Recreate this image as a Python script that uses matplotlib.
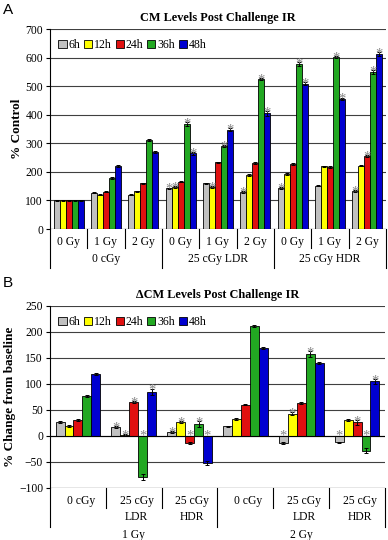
import matplotlib
matplotlib.use("Agg")
import matplotlib.pyplot as plt
import numpy as np
from matplotlib.transforms import blended_transform_factory
from matplotlib.patches import Patch
from matplotlib.lines import Line2D

plt.rcParams['font.family'] = ['Liberation Serif', 'DejaVu Serif']

series = ["6h", "12h", "24h", "36h", "48h"]
colors = ["#c0c0c0", "#ffff00", "#e01010", "#22a822", "#0000d0"]

# Panel A
a_sub = ["0 Gy", "1 Gy", "2 Gy"] * 3
a_grp = ["0 cGy", "25 cGy LDR", "25 cGy HDR"]
a_vals = [
    [100, 127, 120, 142, 160, 130, 143, 152, 132],   # 6h
    [100, 120, 132, 147, 148, 190, 193, 220, 222],   # 12h
    [100, 131, 160, 166, 233, 231, 228, 217, 255],   # 24h
    [100, 178, 312, 368, 290, 525, 577, 601, 550],   # 36h
    [100, 220, 270, 265, 348, 405, 508, 456, 612],   # 48h
]
a_err = [
    [2, 2, 2, 3, 2, 3, 3, 2, 3],
    [2, 2, 2, 3, 3, 3, 3, 2, 3],
    [2, 2, 2, 3, 3, 3, 3, 2, 3],
    [2, 3, 4, 6, 4, 3, 6, 3, 6],
    [2, 3, 4, 5, 4, 8, 5, 4, 8],
]
a_sig = [
    [0, 0, 0, 1, 0, 1, 1, 0, 1],
    [0, 0, 0, 1, 1, 0, 0, 0, 0],
    [0, 0, 0, 0, 0, 0, 0, 0, 1],
    [0, 0, 0, 1, 1, 1, 1, 1, 1],
    [0, 0, 0, 1, 1, 1, 1, 1, 1],
]

# Panel B
b_sub = ["0 cGy", "25 cGy\nLDR", "25 cGy\nHDR"] * 2
b_grp = ["1 Gy", "2 Gy"]
b_vals = [
    [27, 17, 7, 19, -14, -12],
    [19, 2, 27, 32, 43, 30],
    [31, 65, -14, 60, 63, 26],
    [77, -79, 23, 211, 157, -28],
    [119, 85, -52, 170, 141, 105],
]
b_err = [
    [2, 2, 2, 1, 2, 1],
    [2, 1, 2, 2, 3, 2],
    [2, 2, 2, 1, 2, 4],
    [2, 6, 6, 2, 6, 5],
    [2, 6, 4, 2, 2, 5],
]
b_sig = [
    [0, 1, 1, 0, 1, 1],
    [0, 1, 1, 0, 1, 0],
    [0, 1, 1, 0, 0, 1],
    [0, 1, 1, 0, 1, 1],
    [0, 1, 1, 0, 0, 1],
]

fig = plt.figure(figsize=(3.88, 5.40), dpi=100)
W, H = 388, 540
FS = 8.4


def px_axes(l, t, r, b):
    return fig.add_axes([l / W, 1 - b / H, (r - l) / W, (b - t) / H])


def draw_bars(ax, vals, errs, sigs, neg_pos):
    n = len(vals[0])
    x = np.arange(n)
    bw = 0.16
    for i in range(5):
        xs = x + (i - 2) * bw
        ax.bar(xs, vals[i], bw, color=colors[i], edgecolor="black",
               linewidth=0.6, zorder=3)
        ax.errorbar(xs, vals[i], yerr=errs[i], fmt="none", ecolor="black",
                    elinewidth=0.7, capsize=1.5, capthick=0.7, zorder=4)
        for j in range(n):
            if sigs[i][j]:
                v = vals[i][j]
                y = v + errs[i][j] if v >= 0 else neg_pos
                ax.annotate("*", (xs[j], y), xytext=(0, -3.8),
                            textcoords="offset points", ha="center",
                            va="baseline", color="#858585", fontsize=10.5,
                            zorder=5)
    ax.set_xlim(-0.5, n - 0.5)
    ax.set_xticks([])
    ax.spines["right"].set_visible(False)
    ax.spines["top"].set_visible(False)
    ax.spines["left"].set_linewidth(0.8)
    ax.spines["bottom"].set_visible(False)
    ax.yaxis.grid(True, color="#404040", linewidth=0.8, zorder=0)
    ax.set_axisbelow(True)
    ax.tick_params(axis="y", labelsize=FS, length=3, width=0.8, pad=2)


def legend(ax):
    handles = [Patch(facecolor=c, edgecolor="black", linewidth=0.6) for c in colors]
    ax.legend(handles, series, loc="upper left", ncol=5, frameon=False,
              fontsize=8.6, handlelength=0.7, handleheight=0.7,
              handletextpad=0.15, columnspacing=0.3,
              bbox_to_anchor=(0.0, 0.99), borderaxespad=0.3)


# ---------- Panel A ----------
axA = px_axes(50, 29, 386, 229)
draw_bars(axA, a_vals, a_err, a_sig, 5)
axA.set_ylim(0, 700)
axA.set_yticks(range(0, 701, 100))
axA.axhline(0, color="black", linewidth=0.8, zorder=4)
axA.set_title("CM Levels Post Challenge IR", fontsize=8.8, fontweight="bold",
              pad=6)
axA.set_ylabel("% Control", fontsize=9.5, fontweight="bold", labelpad=2)
legend(axA)
trA = blended_transform_factory(axA.transData, axA.transAxes)
for j, lab in enumerate(a_sub):
    axA.text(j, -0.035, lab, transform=trA, ha="center", va="top", fontsize=FS)
for j in range(10):
    bottom = -0.195 if j % 3 == 0 else -0.095
    axA.add_line(Line2D([j - 0.5, j - 0.5], [0, bottom], transform=trA,
                        color="black", linewidth=0.8, clip_on=False))
for g, lab in enumerate(a_grp):
    axA.text(3 * g + 1, -0.12, lab, transform=trA, ha="center", va="top",
             fontsize=FS)

# ---------- Panel B ----------
axB = px_axes(50, 306, 385, 488)
draw_bars(axB, b_vals, b_err, b_sig, 3)
axB.set_ylim(-100, 250)
axB.set_yticks(range(-100, 251, 50))
axB.axhline(0, color="black", linewidth=0.8, zorder=4)
axB.axhline(-100, color="black", linewidth=0.8, zorder=4)
axB.set_title("\u0394CM Levels Post Challenge IR", fontsize=8.8,
              fontweight="bold", pad=6)
axB.set_ylabel("% Change from baseline", fontsize=9.5, fontweight="bold",
               labelpad=2)
legend(axB)
trB = blended_transform_factory(axB.transData, axB.transAxes)
for j, lab in enumerate(b_sub):
    axB.text(j + 0.05, -0.04, lab, transform=trB, ha="center", va="top",
             fontsize=FS, linespacing=1.4)
for j in range(7):
    bottom = -0.215 if j % 3 == 0 else -0.11
    axB.add_line(Line2D([j - 0.5, j - 0.5], [0, bottom], transform=trB,
                        color="black", linewidth=0.8, clip_on=False))
for g, lab in enumerate(b_grp):
    axB.text(3 * g + 1, -0.225, lab, transform=trB, ha="center", va="top",
             fontsize=FS)

fig.text(3 / W, 1 - 3 / H, "A", fontsize=11, va="top", ha="left",
         family="Liberation Sans")
fig.text(3 / W, 1 - 276 / H, "B", fontsize=11, va="top", ha="left",
         family="Liberation Sans")

fig.savefig("out.png", dpi=100)
